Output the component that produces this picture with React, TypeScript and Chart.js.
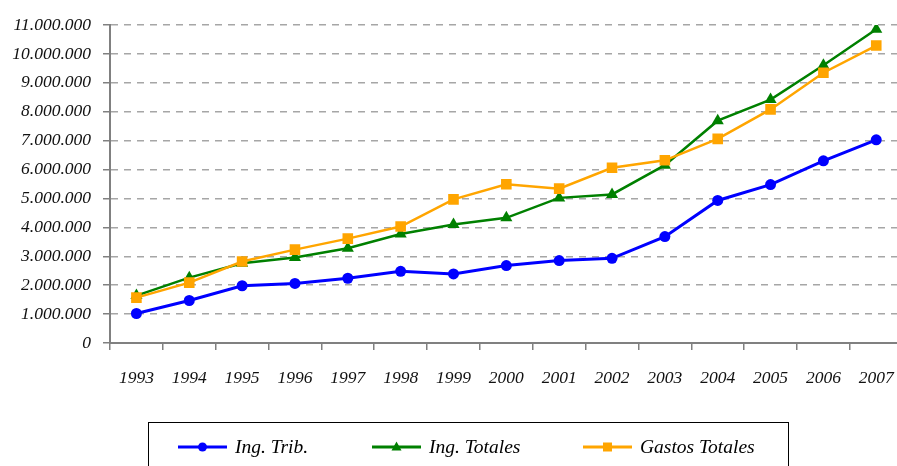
import React, { useEffect, useRef } from 'react';
import { Chart, registerables } from 'chart.js';

Chart.register(...registerables);

const years = ['1993', '1994', '1995', '1996', '1997', '1998', '1999', '2000', '2001', '2002', '2003', '2004', '2005', '2006', '2007'];
const ingTrib = [1020000, 1470000, 1980000, 2060000, 2240000, 2480000, 2390000, 2680000, 2850000, 2930000, 3680000, 4930000, 5480000, 6300000, 7030000];
const ingTotales = [1640000, 2260000, 2760000, 2960000, 3280000, 3770000, 4100000, 4330000, 5020000, 5140000, 6150000, 7690000, 8420000, 9610000, 10850000];
const gastosTotales = [1570000, 2090000, 2820000, 3230000, 3610000, 4030000, 4970000, 5490000, 5340000, 6060000, 6320000, 7060000, 8080000, 9350000, 10290000];
const seriesNames = ['Ing. Trib.', 'Ing. Totales', 'Gastos Totales'];
const seriesColors = ['#0000ff', '#008000', '#ffa500'];

const FONT_FAMILY = '"Liberation Serif", "Times New Roman", serif';

function fmt(v: number): string {
  return String(Math.round(v)).replace(/\B(?=(\d{3})+(?!\d))/g, '.');
}

const boxLegend = {
  id: 'boxLegend',
  afterDraw(chart: any) {
    const ctx: CanvasRenderingContext2D = chart.ctx;
    ctx.save();
    ctx.strokeStyle = '#000';
    ctx.lineWidth = 1;
    ctx.strokeRect(148.5, 422.5, 640, 80);
    const starts = [178, 372, 583];
    const styles = ['circle', 'triangle', 'rect'];
    const y = 447;
    chart.data.datasets.forEach((ds: any, i: number) => {
      const x0 = starts[i];
      const color = seriesColors[i];
      ctx.strokeStyle = color;
      ctx.fillStyle = color;
      ctx.lineWidth = 3;
      ctx.beginPath();
      ctx.moveTo(x0, y);
      ctx.lineTo(x0 + 49, y);
      ctx.stroke();
      const cx = x0 + 24.5;
      ctx.beginPath();
      if (styles[i] === 'circle') {
        ctx.arc(cx, y, 4.5, 0, Math.PI * 2);
      } else if (styles[i] === 'triangle') {
        ctx.moveTo(cx, y - 5.5);
        ctx.lineTo(cx + 5, y + 3.5);
        ctx.lineTo(cx - 5, y + 3.5);
        ctx.closePath();
      } else {
        ctx.rect(cx - 4.5, y - 4.5, 9, 9);
      }
      ctx.fill();
      ctx.fillStyle = '#000';
      ctx.font = `italic 19.5px ${FONT_FAMILY}`;
      ctx.textBaseline = 'middle';
      ctx.textAlign = 'left';
      ctx.fillText(ds.label, x0 + 57, y + 1);
    });
    ctx.restore();
  },
};

export default function App() {
  const ref = useRef<HTMLCanvasElement>(null);
  useEffect(() => {
    document.body.style.margin = '0';
    const tickFont = { family: FONT_FAMILY, size: 17.5, style: 'italic' as const };
    const chart = new Chart(ref.current!, {
      type: 'line',
      data: {
        labels: years,
        datasets: [
          {
            label: seriesNames[0],
            data: ingTrib,
            borderColor: seriesColors[0],
            backgroundColor: seriesColors[0],
            borderWidth: 3,
            pointStyle: 'circle',
            pointRadius: 5.5,
            pointBorderWidth: 0,
            order: 1,
          },
          {
            label: seriesNames[1],
            data: ingTotales,
            borderColor: seriesColors[1],
            backgroundColor: seriesColors[1],
            borderWidth: 2.5,
            pointStyle: 'triangle',
            pointRadius: 7,
            pointBorderWidth: 0,
            order: 2,
          },
          {
            label: seriesNames[2],
            data: gastosTotales,
            borderColor: seriesColors[2],
            backgroundColor: seriesColors[2],
            borderWidth: 2.5,
            pointStyle: 'rect',
            pointRadius: 7.5,
            pointBorderWidth: 0,
            order: 0,
          },
        ],
      },
      options: {
        animation: false,
        responsive: false,
        layout: { padding: { top: 25, bottom: 59, left: 0, right: 0 } },
        plugins: {
          legend: { display: false },
          tooltip: { enabled: false },
        },
        scales: {
          x: {
            type: 'category',
            offset: true,
            grid: {
              offset: true,
              drawOnChartArea: false,
              drawTicks: true,
              tickLength: 7,
              color: '#808080',
              lineWidth: 1.5,
            },
            border: { display: true, color: '#808080', width: 2 },
            ticks: { font: tickFont, color: '#111', padding: 18, maxRotation: 0, autoSkip: false },
          },
          y: {
            min: 0,
            max: 11000000,
            afterFit: (s: any) => {
              s.width = 110;
            },
            grid: {
              color: '#a6a6a6',
              lineWidth: 1.5,
              tickBorderDash: [],
              tickColor: '#808080',
              tickLength: 7,
              drawTicks: true,
            },
            border: { display: true, color: '#808080', width: 2, dash: [7, 6] },
            ticks: {
              stepSize: 1000000,
              font: tickFont,
              color: '#111',
              padding: 12,
              callback: (v: any) => fmt(Number(v)),
            },
          },
        },
      },
      plugins: [boxLegend],
    });
    return () => chart.destroy();
  }, []);
  return (
    <div style={{ width: 897, height: 466, overflow: 'hidden', position: 'relative' }}>
      <canvas ref={ref} width={912} height={466} style={{ display: 'block', width: 912, height: 466 }} />
    </div>
  );
}
